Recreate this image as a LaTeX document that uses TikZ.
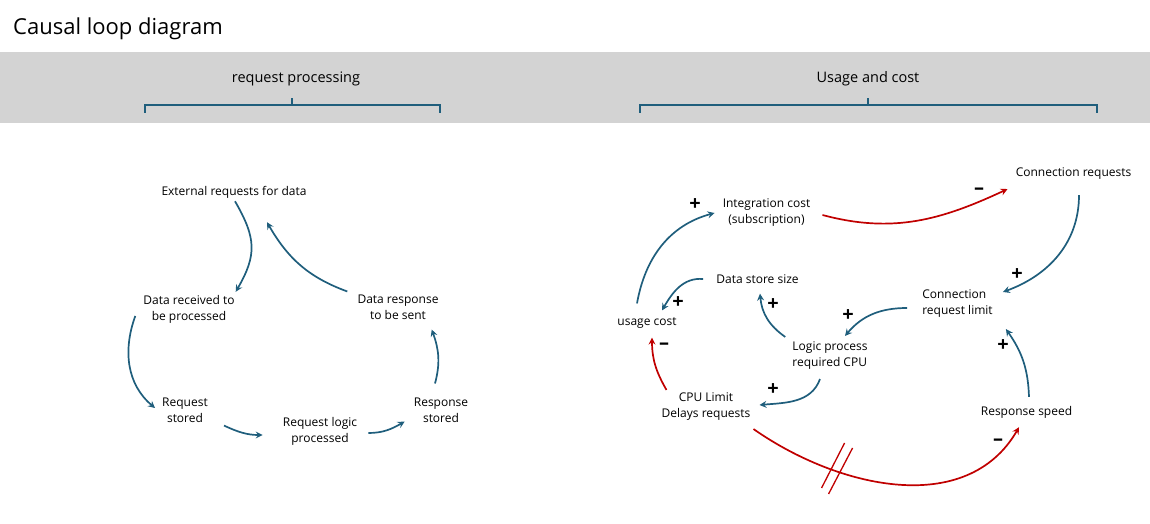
\documentclass[tikz,border=0pt]{standalone}
\usepackage{fontspec}
\setmainfont{Open Sans}
\usetikzlibrary{arrows.meta,calc}

\definecolor{loopblue}{RGB}{31,94,124}
\definecolor{loopred}{RGB}{192,0,0}
\definecolor{bandgray}{RGB}{211,211,211}

\begin{document}
\begin{tikzpicture}[x=1pt,y=-1pt,
    var/.style={font=\fontsize{12}{16}\selectfont, align=center, inner sep=1pt},
    link/.style={draw=loopblue, line width=1.7pt, -{Stealth[length=7pt,width=7pt,inset=2.5pt]}},
    neg/.style={link, draw=loopred},
    sign/.style={font=\bfseries\fontsize{20}{20}\selectfont, inner sep=0pt},
    brace/.style={draw=loopblue, line width=1.5pt}]
    \useasboundingbox (0,0) rectangle (1150,524);

    % Title and header band
    \node[anchor=west, inner sep=0pt, font=\fontsize{22}{26}\selectfont] (title) at (13,29) {Causal loop diagram};
    \fill[bandgray] (0,52) rectangle (1150,123);
    \node[font=\fontsize{14.5}{16}\selectfont] (hproc) at (296,79) {request processing};
    \node[font=\fontsize{14.5}{16}\selectfont] (husage) at (868,79) {Usage and cost};
    \draw[brace] (145,113) |- (440,105) -- (440,113);
    \draw[brace] (292,105) -- (292,98);
    \draw[brace] (640,113) |- (1097,105) -- (1097,113);
    \draw[brace] (868,105) -- (868,98);

    % Request processing loop
    \node[var] (ext) at (234,192) {External requests for data};
    \node[var] (recv) at (189,309) {Data received to\\be processed};
    \node[var] (reqst) at (185,410) {Request\\stored};
    \node[var] (reqlogic) at (320,431) {Request logic\\processed};
    \node[var] (respst) at (441,410) {Response\\stored};
    \node[var] (resp) at (398,307) {Data response\\to be sent};

    \draw[link] ([shift={(1,2)}]ext.south) to[out=-60,in=60,looseness=1.2] ([shift={(0,-2)}]recv.north east);
    \draw[link] ([shift={(-7,7)}]recv.west) to[out=-110,in=140] ([shift={(-6,-2)}]reqst.west);
    \draw[link] ([shift={(15,2)}]reqst.south east) to[out=-25,in=180] ([shift={(-19,4)}]reqlogic.west);
    \draw[link] ([shift={(10,2)}]reqlogic.east) to[out=0,in=210] ([shift={(-8,-2)}]respst.south west);
    \draw[link] ([shift={(-6,-13)}]respst.north) to[out=75,in=-70] ([shift={(-8,9)}]resp.south east);
    \draw[link] ([shift={(-9,-2)}]resp.north west) to[out=160,in=-60] ([shift={(33,23)}]ext.south);

    % Usage and cost loop
    \node[var] (connreq) at (1073.5,174) {Connection requests};
    \node[var] (integ) at (766.5,213) {Integration cost\\(subscription)};
    \node[var] (store) at (757.5,279) {Data store size};
    \node[var] (usage) at (647,323) {usage cost};
    \node[var, align=left] (climit) at (957.5,304) {Connection\\request limit};
    \node[var, align=left] (lproc) at (830,356) {Logic process\\required CPU};
    \node[var] (cpu) at (706,407) {CPU Limit\\Delays requests};
    \node[var] (speed) at (1026.5,412) {Response speed};

    \draw[link] ([shift={(-10,-13)}]usage.north) to[out=80,in=195] ([shift={(-7,0)}]integ.west);
    \draw[neg] ([shift={(11,2)}]integ.east) to[out=-15,in=205] ([shift={(-7,8)}]connreq.south west);
    \draw[link] ([shift={(5.5,14)}]connreq.south) to[out=-90,in=20] ([shift={(9,-12)}]climit.east);
    \draw[link] ([shift={(-14,4)}]climit.west) to[out=180,in=50] ([shift={(15,-5)}]lproc.north);
    \draw[link] ([shift={(-6,-4)}]lproc.north west) to[out=145,in=-85] ([shift={(2.5,9)}]store.south);
    \draw[link] ([shift={(-12,0)}]store.west) to[out=175,in=60] ([shift={(15,-6)}]usage.north);
    \draw[link] ([shift={(-10,8)}]lproc.south) to[out=-110,in=5] ([shift={(8,-2)}]cpu.east);
    \draw[neg] ([shift={(6,-2)}]cpu.north west) to[out=120,in=-90] ([shift={(5,8)}]usage.south);
    \draw[neg] ([shift={(2,7)}]cpu.south east) to[out=-35,in=-120] node[pos=0.3, coordinate] (cut) {} ([shift={(-7.5,8)}]speed.south);
    \draw[link] ([shift={(2.5,-8)}]speed.north) to[out=92,in=-55] ([shift={(12,10)}]climit.south east);

    % Delay mark
    \draw[loopred, line width=1.3pt] ([shift={(-17,16)}]cut) -- ([shift={(6,-29)}]cut);
    \draw[loopred, line width=1.3pt] ([shift={(-10,22)}]cut) -- ([shift={(14,-24)}]cut);

    % Polarity signs
    \node[sign] (s1) at (695,205) {+};
    \node[sign] (s2) at (979,191) {–};
    \node[sign] (s3) at (1017,275) {+};
    \node[sign] (s4) at (848,316) {+};
    \node[sign] (s5) at (773,305) {+};
    \node[sign] (s6) at (678,303) {+};
    \node[sign] (s7) at (773,390) {+};
    \node[sign] (s8) at (664,346) {–};
    \node[sign] (s9) at (998,442) {–};
    \node[sign] (s10) at (1003,346) {+};
\end{tikzpicture}
\end{document}
